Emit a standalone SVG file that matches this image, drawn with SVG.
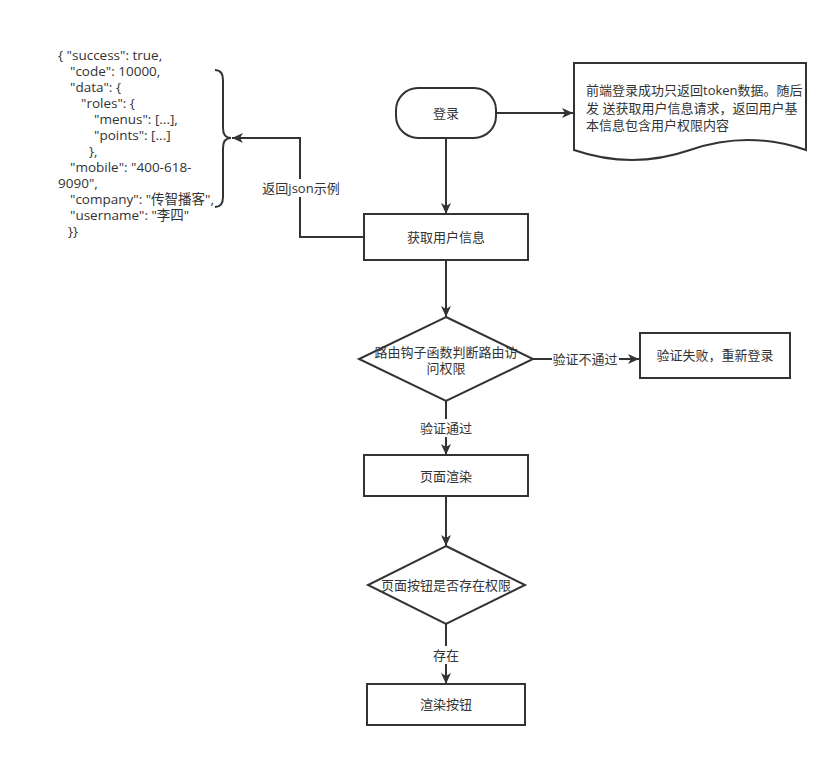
<svg xmlns="http://www.w3.org/2000/svg" width="839" height="757" viewBox="0 0 839 757">
<defs>
<marker id="arr" markerUnits="userSpaceOnUse" markerWidth="12" markerHeight="10" refX="11" refY="5" orient="auto">
<path d="M0,0 L11,5 L0,10 L3,5 Z" fill="#333"/>
</marker>
<style>
.shape{fill:#fff;stroke:#333;stroke-width:2}
.line{fill:none;stroke:#333;stroke-width:2}
text{font-family:"Open Sans","Noto Sans CJK SC",sans-serif;font-size:13px;fill:#333}
.j{font-size:13.5px}
.c{text-anchor:middle;dominant-baseline:central}
.lbl{fill:#fff;stroke:none}
</style>
</defs>
<rect width="839" height="757" fill="#fff"/>

<g id="json">
<text class="j" x="58" y="60">{ "success": true,</text>
<text class="j" x="70" y="76">"code": 10000,</text>
<text class="j" x="70" y="92">"data": {</text>
<text class="j" x="81" y="108">"roles": {</text>
<text class="j" x="94" y="124">"menus": [...],</text>
<text class="j" x="94" y="140">"points": [...]</text>
<text class="j" x="89" y="156">},</text>
<text class="j" x="70" y="172">"mobile": "400-618-</text>
<text class="j" x="58" y="188">9090",</text>
<text class="j" x="70" y="204">"company": "传智播客",</text>
<text class="j" x="70" y="220">"username": "李四"</text>
<text class="j" x="68" y="236">}}</text>
</g>
<g id="brace">
<path class="line" d="M215,70 Q223,70 223,80 V128 Q223,138 231,138 Q223,138 223,148 V197 Q223,207 215,207"/>
</g>

<g id="connectors">
<path class="line" d="M496,113 H573" marker-end="url(#arr)"/>
<path class="line" d="M446,138 V214" marker-end="url(#arr)"/>
<path class="line" d="M364,237 H300 V138 H232" marker-end="url(#arr)"/>
<path class="line" d="M446,260 V317" marker-end="url(#arr)"/>
<path class="line" d="M533,359 H639" marker-end="url(#arr)"/>
<path class="line" d="M446,401 V455" marker-end="url(#arr)"/>
<path class="line" d="M446,496 V546" marker-end="url(#arr)"/>
<path class="line" d="M446,624 V684" marker-end="url(#arr)"/>
<rect class="lbl" x="259" y="179" width="84" height="18"/>
<text class="c" x="301" y="188">返回json示例</text>
<rect class="lbl" x="552" y="350" width="67" height="18"/>
<text class="c" x="585" y="359">验证不通过</text>
<rect class="lbl" x="418" y="419" width="56" height="18"/>
<text class="c" x="446" y="428">验证通过</text>
<rect class="lbl" x="431" y="646" width="30" height="18"/>
<text class="c" x="446" y="655">存在</text>
</g>

<g id="login">
<rect class="shape" x="396" y="88" width="100" height="50" rx="22" ry="22"/>
<text class="c" x="446" y="113">登录</text>
</g>
<g id="doc">
<path class="shape" d="M574,63 H806 V150 Q748,130 690,150 Q632,170 574,150 Z"/>
<text x="586" y="95">前端登录成功只返回token数据。随后</text>
<text x="586" y="113">发 送获取用户信息请求，返回用户基</text>
<text x="586" y="130">本信息包含用户权限内容</text>
</g>
<g id="getinfo">
<rect class="shape" x="364" y="214" width="164" height="46"/>
<text class="c" x="446" y="237">获取用户信息</text>
</g>
<g id="check">
<path class="shape" d="M446,317 L533,359 L446,401 L359,359 Z"/>
<text class="c" x="446" y="352">路由钩子函数判断路由访</text>
<text class="c" x="446" y="368">问权限</text>
</g>
<g id="fail">
<rect class="shape" x="640" y="333" width="150" height="45"/>
<text class="c" x="715" y="355">验证失败，重新登录</text>
</g>
<g id="render">
<rect class="shape" x="364" y="455" width="164" height="41"/>
<text class="c" x="446" y="476">页面渲染</text>
</g>
<g id="btncheck">
<path class="shape" d="M446,546 L525,585 L446,624 L368,585 Z"/>
<text class="c" x="446" y="585">页面按钮是否存在权限</text>
</g>
<g id="renderbtn">
<rect class="shape" x="367" y="684" width="158" height="41"/>
<text class="c" x="446" y="704">渲染按钮</text>
</g>
</svg>
